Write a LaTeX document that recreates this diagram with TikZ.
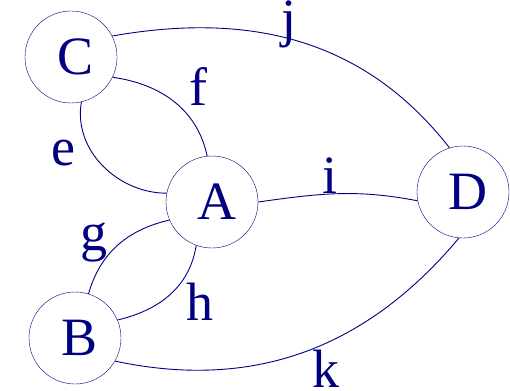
\documentclass[tikz,border=0pt]{standalone}
\usepackage{fontspec}
\setmainfont{Liberation Serif}
\definecolor{azul}{RGB}{0,0,128}
\tikzset{
  vertice/.style={draw=azul, circle, minimum size=92pt, inner sep=0pt,
    text=azul, font=\fontsize{54}{60}\selectfont,
    execute at begin node=\hspace{10pt}},
  arista/.style={draw=azul, line width=0.9pt},
  etiqueta/.style={text=azul, anchor=base, inner sep=0pt,
    font=\fontsize{54}{60}\selectfont}
}
\begin{document}
\begin{tikzpicture}[x=1pt, y=1pt]
  \useasboundingbox (0,0) rectangle (510,-390);

  % Vertices
  \node[vertice] (C) at (71,-57)   {C};
  \node[vertice] (A) at (212,-202) {A};
  \node[vertice] (B) at (75,-338)  {B};
  \node[vertice] (D) at (463,-192) {D};

  % Aristas
  \draw[arista] (C.-77) to[out=-100, in=180] (A.169);
  \draw[arista] (C.-26) to[out=-8, in=102] (A.96);
  \draw[arista] (A.203) to[out=193, in=74] (B.73);
  \draw[arista] (A.-110) to[out=-99, in=13] (B.23);
  \draw[arista] (A.0) to[out=8, in=169] (D.191);
  \draw[arista] (C.27) to[out=10, in=128] (D.107);
  \draw[arista] (B.-30) to[out=-12, in=-130] (D.-95);

  % Etiquetas
  \node[etiqueta] (le) at (63,-165) {e};
  \node[etiqueta] (lf) at (198,-106) {f};
  \node[etiqueta] (lg) at (94,-250) {g};
  \node[etiqueta] (lh) at (200,-320) {h};
  \node[etiqueta] (li) at (330,-193) {i};
  \node[etiqueta] (lj) at (289,-37) {j};
  \node[etiqueta] (lk) at (326,-387) {k};
\end{tikzpicture}
\end{document}
